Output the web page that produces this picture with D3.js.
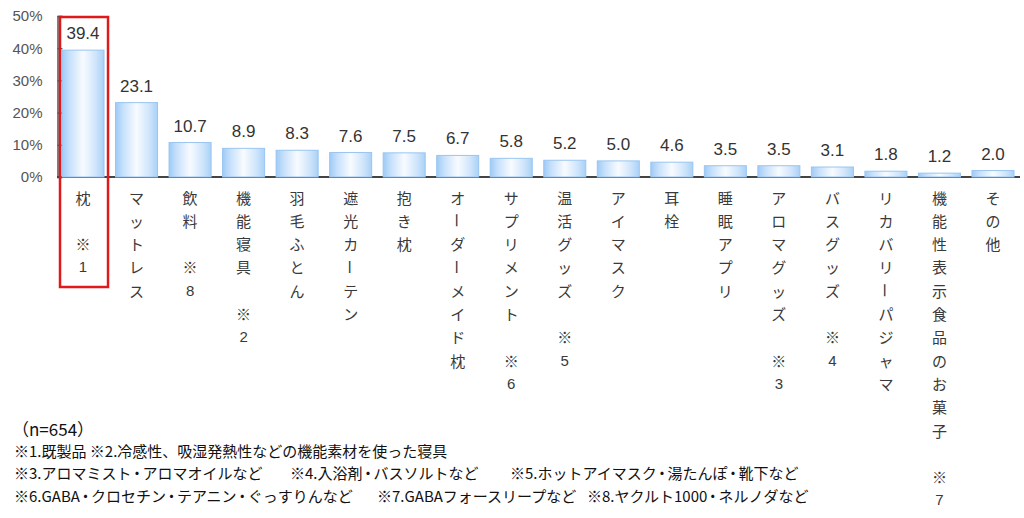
<!DOCTYPE html>
<html><head><meta charset="utf-8">
<script src="https://cdn.jsdelivr.net/npm/d3@7"></script>
<style>
html,body{margin:0;padding:0;background:#fff;}
svg{display:block;}
</style>
</head><body>
<svg id="c" width="1024" height="518"></svg>
<script>
const categories = ["枕","マットレス","飲料","機能寝具","羽毛ふとん","遮光カーテン","抱き枕","オーダーメイド枕","サプリメント","温活グッズ","アイマスク","耳栓","睡眠アプリ","アロマグッズ","バスグッズ","リカバリーパジャマ","機能性表示食品のお菓子","その他"];
const values = [39.4,23.1,10.7,8.9,8.3,7.6,7.5,6.7,5.8,5.2,5.0,4.6,3.5,3.5,3.1,1.8,1.2,2.0];
const noteNums = ["1",null,"8","2",null,null,null,null,"6","5",null,null,null,"3","4",null,"7",null];
const yTicks = [0,10,20,30,40,50];
const sampleNote = "（n=654）";
const footLines = [
  [["※1.既製品 ※2.冷感性、吸湿発熱性などの機能素材を使った寝具", 14]],
  [["※3.アロマミスト・アロマオイルなど", 14], ["※4.入浴剤・バスソルトなど", 290], ["※5.ホットアイマスク・湯たんぽ・靴下など", 510]],
  [["※6.GABA・クロセチン・テアニン・ぐっすりんなど", 14], ["※7.GABAフォースリープなど", 377], ["※8.ヤクルト1000・ネルノダなど", 587]]
];
const highlight = "枕";

const svg = d3.select("#c");
const x = d3.scaleBand().domain(categories).range([56.25, 1019.75]).paddingInner(0.215).paddingOuter(0.1075);
const y = d3.scaleLinear().domain([0, 50]).range([177, 16]);
const data = categories.map((c, i) => ({c, v: values[i], n: noteNums[i]}));

const defs = svg.append("defs");
const g = defs.append("linearGradient").attr("id", "bg").attr("x1", "0").attr("x2", "1").attr("y1", "0").attr("y2", "0");
[[0, "#9fcbf6"], [0.18, "#c6e0fb"], [0.5, "#f8fbff"], [0.8, "#cfe5fb"], [1, "#a9d1f7"]]
  .forEach(([o, c]) => g.append("stop").attr("offset", o).attr("stop-color", c));

// y axis
const yAxis = d3.axisRight(y).tickValues(yTicks).tickSize(5).tickFormat(d => d + "%");
const ya = svg.append("g").attr("transform", "translate(57.5,0)").call(yAxis);
ya.select(".domain").attr("stroke", "#555").attr("stroke-width", 1.5);
ya.selectAll(".tick line").attr("stroke", "#555").attr("stroke-width", 1.3);
ya.selectAll(".tick text").attr("x", -15).attr("text-anchor", "end")
  .attr("font-family", "Liberation Sans, Arial, sans-serif").attr("font-size", 15).attr("fill", "#555");

// baseline
svg.append("line").attr("x1", 57).attr("x2", 1020).attr("y1", y(0)).attr("y2", y(0))
  .attr("stroke", "#444").attr("stroke-width", 2);

// bars
svg.selectAll("rect.bar").data(data).join("rect").attr("class", "bar")
  .attr("x", d => x(d.c)).attr("width", x.bandwidth())
  .attr("y", d => y(d.v)).attr("height", d => y(0) - y(d.v))
  .attr("fill", "url(#bg)").attr("stroke", "#99c5f1").attr("stroke-width", 1);

// value labels
svg.selectAll("text.val").data(data).join("text").attr("class", "val")
  .attr("x", d => x(d.c) + x.bandwidth() / 2).attr("y", d => y(d.v) - 11)
  .attr("text-anchor", "middle").attr("font-family", "Liberation Sans, Arial, sans-serif")
  .attr("font-size", 17).attr("fill", "#333").text(d => d.v.toFixed(1));

// vertical category labels
const lineH = 23.3, firstY = 197;
data.forEach(d => {
  const chars = Array.from(d.c);
  if (d.n) { chars.push(""); chars.push("※"); chars.push(d.n); }
  const cx = x(d.c) + x.bandwidth() / 2;
  chars.forEach((ch, i) => {
    if (!ch) return;
    const cy = firstY + i * lineH;
    const t = svg.append("text").attr("x", cx).attr("y", cy)
      .attr("text-anchor", "middle").attr("dominant-baseline", "central")
      .attr("font-family", "Noto Sans CJK JP, sans-serif").attr("font-size", 15)
      .attr("fill", "#3a3a3a").text(ch);
    if (ch === "ー") t.attr("transform", `rotate(90,${cx},${cy})`);
    if (/^[0-9]$/.test(ch)) t.attr("font-family", "Liberation Sans, Arial, sans-serif").attr("font-size", 15);
  });
});

// highlight box
const hx = x(highlight);
svg.append("rect").attr("x", hx - 2).attr("y", 17).attr("width", x.bandwidth() + 6).attr("height", 270)
  .attr("fill", "none").attr("stroke", "#e0191b").attr("stroke-width", 2.5);

// footnotes
svg.append("text").attr("x", 12).attr("y", 428).attr("dominant-baseline", "central")
  .attr("font-family", "Noto Sans CJK JP, sans-serif").attr("font-size", 17).attr("fill", "#111").text(sampleNote);
const lineYs = [450, 472, 495];
footLines.forEach((segs, li) => {
  segs.forEach(([txt, fx]) => {
    const t = svg.append("text").attr("x", fx).attr("y", lineYs[li]).attr("dominant-baseline", "central")
      .attr("font-family", "Noto Sans CJK JP, sans-serif").attr("font-size", 15).attr("fill", "#111");
    const parts = txt.split("・");
    parts.forEach((p, pi) => {
      if (pi > 0) {
        t.append("tspan").attr("dx", -2).text("・");
        t.append("tspan").attr("dx", -2).text(p);
      } else {
        t.append("tspan").text(p);
      }
    });
  });
});
</script>
</body></html>
